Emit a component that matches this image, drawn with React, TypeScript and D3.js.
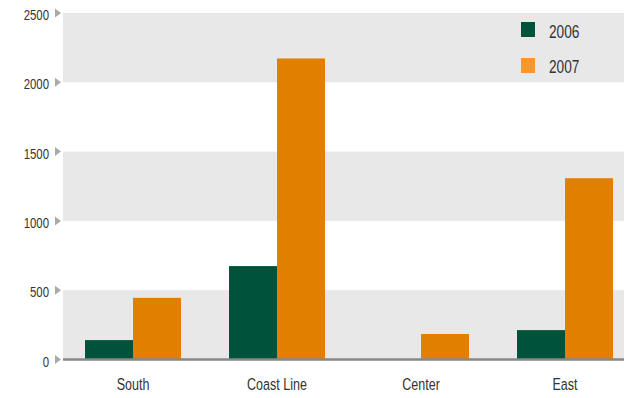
import React from "react";
import * as d3 from "d3";

const categories = ["South", "Coast Line", "Center", "East"];
const seriesNames = ["2006", "2007"];
const values2006 = [140, 674, 0, 212];
const values2007 = [445, 2172, 184, 1308];
const yTicks = [0, 500, 1000, 1500, 2000, 2500];

const W = 624;
const H = 398;
const FONT = "'Liberation Sans', Arial, sans-serif";
const SX = 0.76;
const barColors = ["#00533A", "#E07F00"];
const legendColors = ["#00533A", "#F7982F"];

function T(props: { x: number; y: number; size: number; anchor?: string; children: React.ReactNode }) {
  return (
    <text
      transform={`translate(${props.x},${props.y}) scale(${SX},1)`}
      textAnchor={props.anchor || "start"}
      fontSize={props.size}
      fill="#333"
    >
      {props.children}
    </text>
  );
}

export default function App() {
  const y = d3.scaleLinear().domain([0, 2500]).range([359.5, 13]);
  const x = d3
    .scaleBand<string>()
    .domain(categories)
    .range([61, 637])
    .paddingInner(1 / 3)
    .paddingOuter(1 / 6);
  const xs = d3.scaleBand<string>().domain(seriesNames).range([0, x.bandwidth()]);
  const plotLeft = 63;
  const series = [values2006, values2007];
  const bands = [
    [0, 500],
    [1000, 1500],
    [2000, 2500],
  ];
  return (
    <svg
      width={W}
      height={H}
      style={{ position: "absolute", left: 0, top: 0, background: "#fff" }}
      fontFamily={FONT}
    >
      {bands.map(([a, b], i) => (
        <rect key={i} x={plotLeft} y={y(b)} width={W - plotLeft} height={y(a) - y(b)} fill="#E8E8E8" />
      ))}
      {categories.map((c, ci) =>
        series.map((vals, si) => (
          <rect
            key={c + si}
            x={(x(c) as number) + (xs(seriesNames[si]) as number)}
            y={y(vals[ci])}
            width={xs.bandwidth()}
            height={y(0) - y(vals[ci])}
            fill={barColors[si]}
          />
        ))
      )}
      <line x1={plotLeft} x2={W} y1={y(0)} y2={y(0)} stroke="#888" strokeWidth={2.5} />
      {yTicks.map((t) => (
        <g key={t}>
          <path
            d={`M55,${y(t) - 4.5} L61,${y(t)} L55,${y(t) + 4.5} Z`}
            fill="#AAAAAA"
          />
          <T x={49} y={y(t) + 7} size={15} anchor="end">
            {t}
          </T>
        </g>
      ))}
      {categories.map((c) => (
        <T key={c} x={(x(c) as number) + x.bandwidth() / 2} y={390} size={16.5} anchor="middle">
          {c}
        </T>
      ))}
      {seriesNames.map((s, i) => (
        <g key={s}>
          <rect x={521} y={22 + i * 36} width={14} height={15} fill={legendColors[i]} />
          <T x={549} y={38 + i * 35} size={18}>
            {s}
          </T>
        </g>
      ))}
    </svg>
  );
}
